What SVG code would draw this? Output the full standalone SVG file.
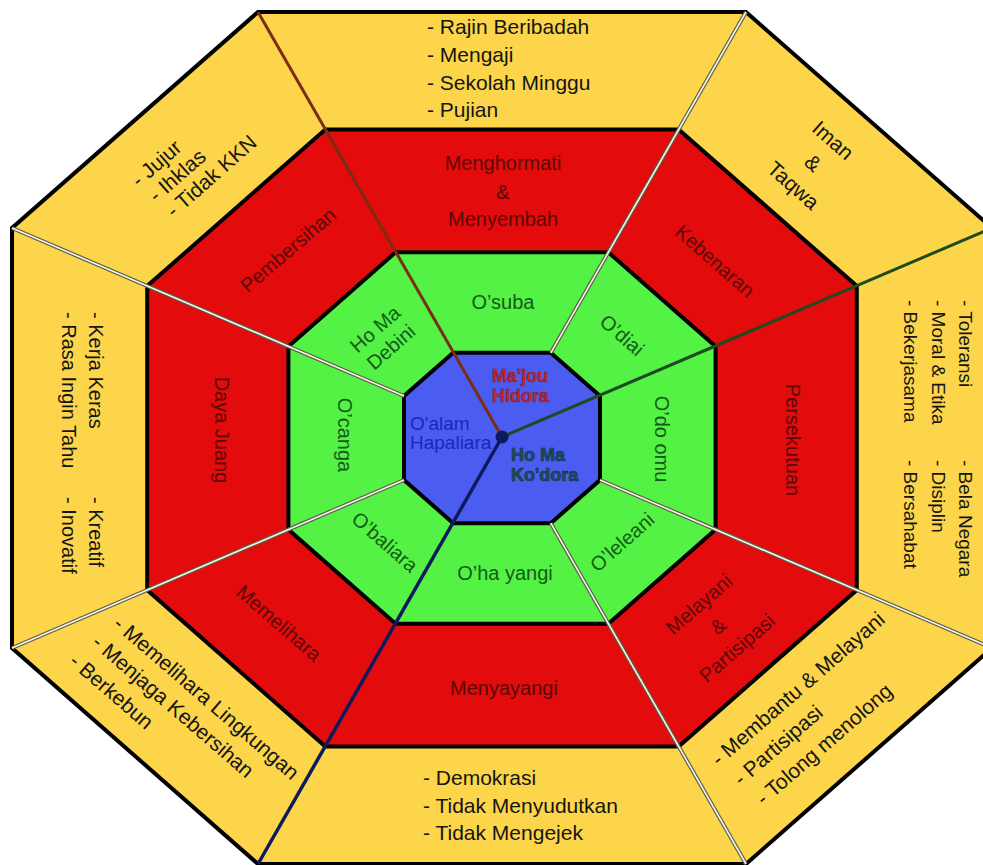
<svg xmlns="http://www.w3.org/2000/svg" width="983" height="865" viewBox="0 0 983 865">
<style>
  .y { fill: #FCD54A; }
  .r { fill: #E30B0B; }
  .g { fill: #53F244; }
  .b { fill: #4B5CF0; }
  text { font-family: "Liberation Sans", Arial, sans-serif; }
  .ty { font-size: 21px; fill: #151515; }
  .ty19 { font-size: 19px; fill: #151515; }
  .ty20 { font-size: 20px; fill: #151515; }
  .tr { font-size: 20px; fill: #5a0808; }
  .tg { font-size: 20px; fill: #145a17; }
  .oct { fill: none; stroke: #000; stroke-width: 4; stroke-linejoin: miter; }
  .wl1 { fill: none; stroke: #5e5e48; stroke-width: 4; }
  .wl2 { fill: none; stroke: #f7f7ef; stroke-width: 1.6; }
  .mid { text-anchor: middle; }
</style>
<rect width="983" height="865" fill="#ffffff"/>

<!-- Yellow ring -->
<g id="y-top">
  <polygon class="y" points="258,12 746,12 678.7,129.6 325.3,129.6"/>
  <text class="ty" x="427" y="34">- Rajin Beribadah</text>
  <text class="ty" x="427" y="62">- Mengaji</text>
  <text class="ty" x="427" y="90">- Sekolah Minggu</text>
  <text class="ty" x="427" y="117">- Pujian</text>
</g>
<g id="y-topright">
  <polygon class="y" points="746,12 992,228 856.8,286 678.7,129.6"/>
  <g transform="translate(813,163) rotate(41.3)">
    <text class="ty mid" x="0" y="-23">Iman</text>
    <text class="ty mid" x="0" y="7">&amp;</text>
    <text class="ty mid" x="0" y="37">Taqwa</text>
  </g>
</g>
<g id="y-right">
  <polygon class="y" points="992,228 992,648 856.8,590 856.8,286"/>
  <text class="ty19" transform="translate(959,300) rotate(90)">- Toleransi</text>
  <text class="ty19" transform="translate(932,300) rotate(90)">- Moral &amp; Etika</text>
  <text class="ty19" transform="translate(904,300) rotate(90)">- Bekerjasama</text>
  <text class="ty19" transform="translate(959,460) rotate(90)">- Bela Negara</text>
  <text class="ty19" transform="translate(932,460) rotate(90)">- Disiplin</text>
  <text class="ty19" transform="translate(904,460) rotate(90)">- Bersahabat</text>
</g>
<g id="y-bottomright">
  <polygon class="y" points="992,648 746,864 678.7,746.4 856.8,590"/>
  <g transform="translate(719,767) rotate(-41)">
    <text class="ty" x="0" y="0">- Membantu &amp; Melayani</text>
    <text class="ty" x="4" y="29.5">- Partisipasi</text>
    <text class="ty" x="8" y="59">- Tolong menolong</text>
  </g>
</g>
<g id="y-bottom">
  <polygon class="y" points="746,864 258,864 325.3,746.4 678.7,746.4"/>
  <text class="ty" x="423" y="785">- Demokrasi</text>
  <text class="ty" x="423" y="813">- Tidak Menyudutkan</text>
  <text class="ty" x="423" y="840">- Tidak Mengejek</text>
</g>
<g id="y-bottomleft">
  <polygon class="y" points="258,864 12,648 147.2,590 325.3,746.4"/>
  <g transform="translate(112,626) rotate(40.8)">
    <text class="ty" x="0" y="0">- Memelihara Lingkungan</text>
    <text class="ty" x="-4" y="28">- Menjaga Kebersihan</text>
    <text class="ty" x="-9" y="57">- Berkebun</text>
  </g>
</g>
<g id="y-left">
  <polygon class="y" points="12,648 12,228 147.2,286 147.2,590"/>
  <text class="ty20" transform="translate(89,312) rotate(90)">- Kerja Keras</text>
  <text class="ty20" transform="translate(62,312) rotate(90)">- Rasa Ingin Tahu</text>
  <text class="ty20" transform="translate(89,497) rotate(90)">- Kreatif</text>
  <text class="ty20" transform="translate(62,497) rotate(90)">- Inovatif</text>
</g>
<g id="y-topleft">
  <polygon class="y" points="12,228 258,12 325.3,129.6 147.2,286"/>
  <g transform="translate(194,161) rotate(-41.3)">
    <text class="ty" x="-59" y="-16">- Jujur</text>
    <text class="ty" x="-56" y="7">- Ihklas</text>
    <text class="ty" x="-53" y="30">- Tidak KKN</text>
  </g>
</g>

<!-- Red ring -->
<g id="r-top">
  <polygon class="r" points="325.3,129.6 678.7,129.6 608.4,252.3 395.6,252.3"/>
  <text class="tr mid" x="503" y="170" font-size="21">Menghormati</text>
  <text class="tr mid" x="503" y="199" font-size="21">&amp;</text>
  <text class="tr mid" x="503" y="226" font-size="21">Menyembah</text>
</g>
<g id="r-topright">
  <polygon class="r" points="678.7,129.6 856.8,286 715.6,346.4 608.4,252.3"/>
  <text class="tr mid" transform="translate(715,261) rotate(41.3)" y="7">Kebenaran</text>
</g>
<g id="r-right">
  <polygon class="r" points="856.8,286 856.8,590 715.6,529.6 715.6,346.4"/>
  <text class="tr mid" transform="translate(792,440) rotate(90)" y="6.5" font-size="19">Persekutuan</text>
</g>
<g id="r-bottomright">
  <polygon class="r" points="856.8,590 678.7,746.4 608.4,623.7 715.6,529.6"/>
  <g transform="translate(718,626) rotate(-41)">
    <text class="tr mid" x="0" y="-22">Melayani</text>
    <text class="tr mid" x="0" y="7">&amp;</text>
    <text class="tr mid" x="0" y="36">Partisipasi</text>
  </g>
</g>
<g id="r-bottom">
  <polygon class="r" points="678.7,746.4 325.3,746.4 395.6,623.7 608.4,623.7"/>
  <text class="tr mid" x="504" y="695" font-size="22">Menyayangi</text>
</g>
<g id="r-bottomleft">
  <polygon class="r" points="325.3,746.4 147.2,590 288.4,529.6 395.6,623.7"/>
  <text class="tr mid" transform="translate(279,623) rotate(41)" y="7">Memelihara</text>
</g>
<g id="r-left">
  <polygon class="r" points="147.2,590 147.2,286 288.4,346.4 288.4,529.6"/>
  <text class="tr mid" transform="translate(222,430) rotate(90)" y="7">Daya Juang</text>
</g>
<g id="r-topleft">
  <polygon class="r" points="147.2,286 325.3,129.6 395.6,252.3 288.4,346.4"/>
  <text class="tr mid" transform="translate(288,250) rotate(-40.5)" y="7">Pembersihan</text>
</g>

<!-- Green ring -->
<g id="g-top">
  <polygon class="g" points="395.6,252.3 608.4,252.3 550.8,352.8 453.2,352.8"/>
  <text class="tg mid" x="503" y="309" font-size="21">O’suba</text>
</g>
<g id="g-topright">
  <polygon class="g" points="608.4,252.3 715.6,346.4 600,396 550.8,352.8"/>
  <text class="tg mid" transform="translate(622,335) rotate(41.3)" y="7">O’diai</text>
</g>
<g id="g-right">
  <polygon class="g" points="715.6,346.4 715.6,529.6 600,480 600,396"/>
  <text class="tg mid" transform="translate(662,439) rotate(90)" y="7">O’do omu</text>
</g>
<g id="g-bottomright">
  <polygon class="g" points="715.6,529.6 608.4,623.7 550.8,523.2 600,480"/>
  <text class="tg mid" transform="translate(622,542) rotate(-41.3)" y="7">O’leleani</text>
</g>
<g id="g-bottom">
  <polygon class="g" points="608.4,623.7 395.6,623.7 453.2,523.2 550.8,523.2"/>
  <text class="tg mid" x="505" y="580" font-size="21">O’ha yangi</text>
</g>
<g id="g-bottomleft">
  <polygon class="g" points="395.6,623.7 288.4,529.6 404,480 453.2,523.2"/>
  <text class="tg mid" transform="translate(385,542) rotate(41.3)" y="7">O’baliara</text>
</g>
<g id="g-left">
  <polygon class="g" points="288.4,529.6 288.4,346.4 404,396 404,480"/>
  <text class="tg mid" transform="translate(345,435) rotate(90)" y="7">O’canga</text>
</g>
<g id="g-topleft">
  <polygon class="g" points="288.4,346.4 395.6,252.3 453.2,352.8 404,396"/>
  <g transform="translate(383,338) rotate(-41.3)">
    <text class="tg mid" x="0" y="-5">Ho Ma</text>
    <text class="tg mid" x="0" y="19">Debini</text>
  </g>
</g>

<!-- Blue centre -->
<g id="b-majou">
  <polygon class="b" points="502,438 453.2,352.8 550.8,352.8 600,396"/>
  <text x="492" y="382" font-size="18" font-weight="bold" fill="#c62b2f" stroke="#7a1a2a" stroke-width="0.6">Ma'jou</text>
  <text x="492" y="402" font-size="18" font-weight="bold" fill="#c62b2f" stroke="#7a1a2a" stroke-width="0.6">Hidora</text>
</g>
<g id="b-homakodora">
  <polygon class="b" points="502,438 600,396 600,480 550.8,523.2 453.2,523.2"/>
  <text x="511" y="461" font-size="18" font-weight="bold" fill="#1d4f5c" stroke="#10303a" stroke-width="0.6">Ho Ma</text>
  <text x="511" y="481" font-size="18" font-weight="bold" fill="#1d4f5c" stroke="#10303a" stroke-width="0.6">Ko'dora</text>
</g>
<g id="b-oalam">
  <polygon class="b" points="502,438 453.2,523.2 404,480 404,396 453.2,352.8"/>
  <text x="410" y="430" font-size="19" fill="#1a27b8">O'alam</text>
  <text x="410" y="449" font-size="19" fill="#1a27b8">Hapaliara</text>
</g>

<!-- Octagon outlines -->
<g id="outlines">
  <polygon class="oct" stroke-width="3.5" points="258,12 746,12 992,228 992,648 746,864 258,864 12,648 12,228"/>
  <polygon class="oct" points="325.3,129.6 678.7,129.6 856.8,286 856.8,590 678.7,746.4 325.3,746.4 147.2,590 147.2,286"/>
  <polygon class="oct" points="395.6,252.3 608.4,252.3 715.6,346.4 715.6,529.6 608.4,623.7 395.6,623.7 288.4,529.6 288.4,346.4"/>
  <polygon class="oct" points="453.2,352.8 550.8,352.8 600,396 600,480 550.8,523.2 453.2,523.2 404,480 404,396"/>
</g>

<!-- Connectors -->
<g id="connectors">
  <g id="white-lines">
    <line class="wl1" x1="746" y1="12" x2="550.8" y2="352.8"/>
    <line class="wl2" x1="746" y1="12" x2="550.8" y2="352.8"/>
    <line class="wl1" x1="992" y1="648" x2="600" y2="480"/>
    <line class="wl2" x1="992" y1="648" x2="600" y2="480"/>
    <line class="wl1" x1="746" y1="864" x2="550.8" y2="523.2"/>
    <line class="wl2" x1="746" y1="864" x2="550.8" y2="523.2"/>
    <line class="wl1" x1="12" y1="648" x2="404" y2="480"/>
    <line class="wl2" x1="12" y1="648" x2="404" y2="480"/>
    <line class="wl1" x1="12" y1="228" x2="404" y2="396"/>
    <line class="wl2" x1="12" y1="228" x2="404" y2="396"/>
  </g>
  <line id="brown-line" x1="258" y1="12" x2="502" y2="437" stroke="#7b2d14" stroke-width="3"/>
  <line id="green-line" x1="992" y1="228" x2="502" y2="437" stroke="#1d4a1f" stroke-width="3"/>
  <line id="navy-line" x1="258" y1="864" x2="502" y2="437" stroke="#0d1a5c" stroke-width="3.5"/>
  <circle cx="502" cy="437" r="6.5" fill="#0d1a5c"/>
</g>
</svg>
